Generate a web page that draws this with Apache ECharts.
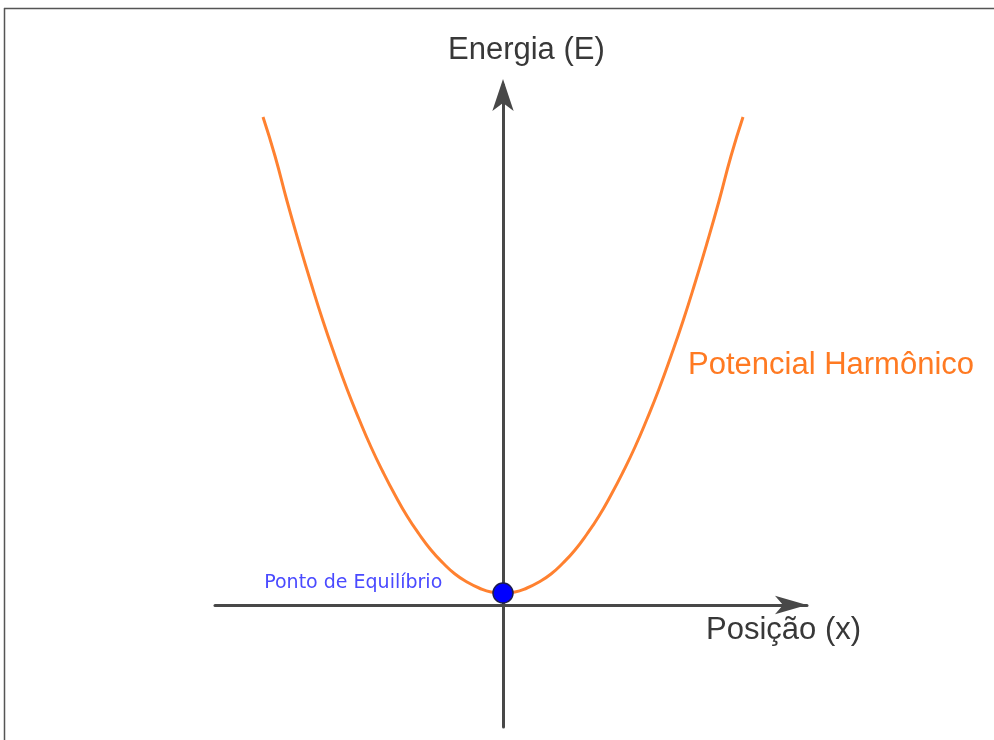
<!DOCTYPE html>
<html>
<head>
<meta charset="utf-8">
<script src="https://cdn.jsdelivr.net/npm/echarts@6/dist/echarts.min.js"></script>
<style>
  html, body { margin: 0; padding: 0; background: #fff; }
  #chart { width: 994px; height: 740px; }
</style>
</head>
<body>
<div id="chart"></div>
<script>
// position (x) and energy (E)
const positions = [
  -5, -4.75, -4.5, -4.25, -4, -3.75, -3.5, -3.25, -3, -2.75, -2.5, -2.25, -2, -1.75, -1.5, -1.25, -1, -0.75, -0.5, -0.25,
  0, 0.25, 0.5, 0.75, 1, 1.25, 1.5, 1.75, 2, 2.25, 2.5, 2.75, 3, 3.25, 3.5, 3.75, 4, 4.25, 4.5, 4.75, 5,
];
const energies = [
  48.8, 44.9, 40.4, 36.2, 32.2, 28.4, 24.9, 21.6, 18.6, 15.8, 13.3, 11.0, 8.9, 7.1, 5.5, 4.2, 3.1, 2.3, 1.7, 1.3,
  1.2, 1.3, 1.7, 2.3, 3.1, 4.2, 5.5, 7.1, 8.9, 11.0, 13.3, 15.8, 18.6, 21.6, 24.9, 28.4, 32.2, 36.2, 40.4, 44.9, 48.8,
];
const equilibrium = [0, 1.2];

let chartDom = document.getElementById('chart');
let myChart = echarts.init(chartDom);

let axisColor = '#484848';

let option = {
  animation: false,
  grid: { left: 215, right: 187, top: 85, bottom: 13 },
  xAxis: {
    type: 'value',
    min: -6,
    max: 6.333,
    axisLine: {
      onZero: true,
      lineStyle: { color: axisColor, width: 3 },
      symbol: ['none', 'arrow'],
      symbolSize: [14, 32],
      symbolOffset: [0, 0],
    },
    axisTick: { show: false },
    axisLabel: { show: false },
    splitLine: { show: false },
  },
  yAxis: {
    type: 'value',
    min: -12.2,
    max: 52,
    axisLine: {
      onZero: true,
      lineStyle: { color: axisColor, width: 3 },
      symbol: ['none', 'arrow'],
      symbolSize: [16, 32],
      symbolOffset: [0, 6],
    },
    axisTick: { show: false },
    axisLabel: { show: false },
    splitLine: { show: false },
  },
  series: [
    {
      name: 'Potencial Harmônico',
      type: 'line',
      smooth: true,
      showSymbol: false,
      lineStyle: { color: '#ff8130', width: 3 },
      data: positions.map((x, i) => [x, energies[i]]),
    },
    {
      name: 'Ponto de Equilíbrio',
      type: 'scatter',
      symbolSize: 20,
      itemStyle: { color: '#0000ff', borderColor: '#1c1c50', borderWidth: 1.5, opacity: 1 },
      label: {
        show: true,
        position: 'left',
        distance: 50,
        offset: [0, -10],
        formatter: 'Ponto de Equilíbrio',
        color: '#4a4aff',
        fontSize: 19,
        fontFamily: 'DejaVu Sans',
      },
      data: [equilibrium],
      z: 5,
    },
  ],
  graphic: [
    // frame of the original figure (top and left edges)
    { type: 'line', shape: { x1: 4, y1: 8.5, x2: 994, y2: 8.5 }, style: { stroke: '#555', lineWidth: 1.5 } },
    { type: 'line', shape: { x1: 4.5, y1: 8, x2: 4.5, y2: 740 }, style: { stroke: '#555', lineWidth: 1.5 } },
    {
      type: 'text', left: 448, top: 35,
      style: { text: 'Energia (E)', fontSize: 31, fontFamily: 'Liberation Sans', fill: '#383838' },
    },
    {
      type: 'text', left: 706, top: 615,
      style: { text: 'Posição (x)', fontSize: 31, fontFamily: 'Liberation Sans', fill: '#383838' },
    },
    {
      type: 'text', left: 688, top: 350,
      style: { text: 'Potencial Harmônico', fontSize: 31, fontFamily: 'Liberation Sans', fill: '#ff7a22' },
    },
  ],
};

myChart.setOption(option);
</script>
</body>
</html>
